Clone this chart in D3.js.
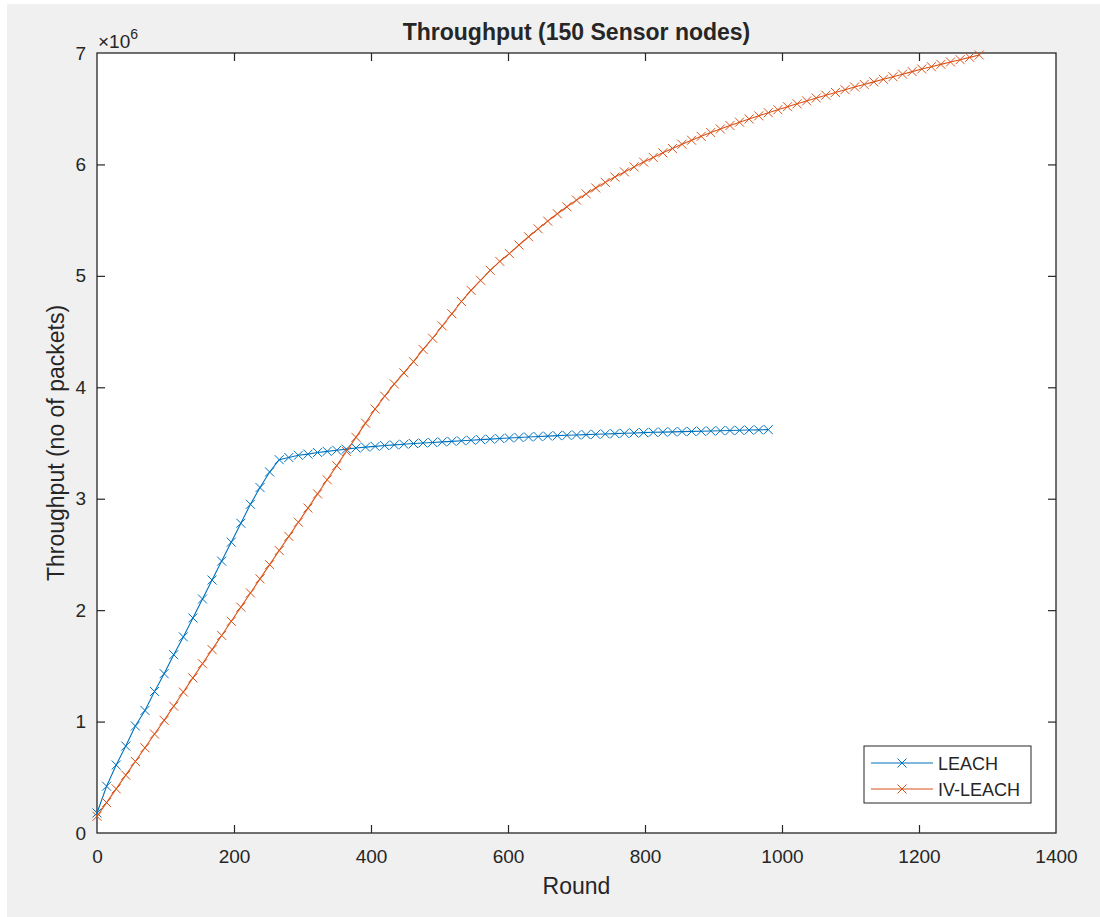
<!DOCTYPE html>
<html>
<head>
<meta charset="utf-8">
<title>Throughput (150 Sensor nodes)</title>
<script src="https://d3js.org/d3.v7.min.js"></script>
<style>
  body { margin: 0; background: white; }
  text { font-family: "Liberation Sans", Arial, sans-serif; fill: #262626; }
</style>
</head>
<body>
<svg id="chart" width="1100" height="917"></svg>
<script>
// rounds where a value was logged (LEACH stops at 980)
const rounds = [0,14,28,42,56,70,84,98,112,126,140,154,168,182,196,210,224,238,252,266,
  280,294,308,322,336,350,364,378,392,406,420,434,448,462,476,490,504,518,532,546,
  560,574,588,602,616,630,644,658,672,686,700,714,728,742,756,770,784,798,812,826,
  840,854,868,882,896,910,924,938,952,966,980,994,1008,1022,1036,1050,1064,1078,1092,1106,
  1120,1134,1148,1162,1176,1190,1204,1218,1232,1246,1260,1274,1288];

// throughput, x10^6 packets
const leach = [0.18,0.42,0.61,0.78,0.96,1.10,1.27,1.43,1.60,1.76,
  1.93,2.10,2.27,2.44,2.61,2.78,2.95,3.10,3.24,3.35,
  3.37,3.39,3.40,3.415,3.425,3.435,3.445,3.455,3.463,3.47,
  3.477,3.483,3.489,3.495,3.50,3.505,3.51,3.515,3.52,3.525,
  3.53,3.535,3.54,3.545,3.55,3.554,3.558,3.562,3.566,3.569,
  3.572,3.575,3.578,3.581,3.584,3.587,3.59,3.593,3.596,3.598,
  3.60,3.602,3.604,3.606,3.608,3.61,3.612,3.614,3.616,3.618,3.62];

const ivLeach = [0.15,0.273,0.396,0.519,0.642,0.765,0.888,1.011,1.138,1.265,
  1.392,1.519,1.646,1.773,1.90,2.027,2.154,2.281,2.408,2.535,
  2.662,2.789,2.916,3.043,3.17,3.297,3.424,3.551,3.678,3.805,
  3.92,4.03,4.13,4.23,4.34,4.44,4.55,4.66,4.77,4.87,
  4.96,5.05,5.13,5.20,5.277,5.351,5.422,5.491,5.557,5.62,
  5.68,5.736,5.789,5.839,5.887,5.933,5.978,6.021,6.063,6.104,
  6.143,6.181,6.217,6.252,6.286,6.318,6.349,6.379,6.408,6.436,
  6.464,6.491,6.518,6.544,6.57,6.596,6.621,6.646,6.671,6.695,
  6.718,6.741,6.764,6.787,6.81,6.833,6.856,6.877,6.898,6.919,
  6.94,6.961,6.982];

const xTicks = [0,200,400,600,800,1000,1200,1400];
const yTicks = [0,1,2,3,4,5,6,7];
const seriesNames = ["LEACH","IV-LEACH"];
const seriesColors = ["#0072BD","#D95319"];

const svg = d3.select("svg#chart");

// figure background (screenshot has a thin white edge)
svg.append("rect").attr("x",7).attr("y",4).attr("width",1093).attr("height",913).attr("fill","#f0f0f0");

const pLeft = 97, pRight = 1056, pTop = 53, pBottom = 833;
const x = d3.scaleLinear().domain([0,1400]).range([pLeft,pRight]);
const y = d3.scaleLinear().domain([0,7]).range([pBottom,pTop]);

svg.append("rect").attr("x",pLeft).attr("y",pTop).attr("width",pRight-pLeft).attr("height",pBottom-pTop).attr("fill","white");

const tickLen = 8;
const axisCol = "#262626";
const fmt = d3.format("d");

// bottom axis with labels, top axis ticks only
const xb = svg.append("g").attr("transform",`translate(0,${pBottom})`)
  .call(d3.axisBottom(x).tickValues(xTicks).tickFormat(fmt).tickSize(-tickLen).tickPadding(17).tickSizeOuter(0));
const xt = svg.append("g").attr("transform",`translate(0,${pTop})`)
  .call(d3.axisTop(x).tickValues(xTicks).tickSize(-tickLen).tickFormat("").tickSizeOuter(0));
const yl = svg.append("g").attr("transform",`translate(${pLeft},0)`)
  .call(d3.axisLeft(y).tickValues(yTicks).tickFormat(fmt).tickSize(-tickLen).tickPadding(11).tickSizeOuter(0));
const yr = svg.append("g").attr("transform",`translate(${pRight},0)`)
  .call(d3.axisRight(y).tickValues(yTicks).tickSize(-tickLen).tickFormat("").tickSizeOuter(0));

[xb,xt,yl,yr].forEach(g => {
  g.selectAll(".domain").remove();
  g.selectAll("line").attr("stroke",axisCol).attr("stroke-width",1.2);
  g.selectAll("text").attr("fill",axisCol).style("font-size","19px")
   .style("font-family",'"Liberation Sans", Arial, sans-serif');
});
// drop the edge ticks that sit on the box
xb.selectAll(".tick").filter(d => d==0 || d==1400).select("line").remove();
xt.selectAll(".tick").filter(d => d==0 || d==1400).select("line").remove();
yl.selectAll(".tick").filter(d => d==0 || d==7).select("line").remove();
yr.selectAll(".tick").filter(d => d==0 || d==7).select("line").remove();

svg.append("rect").attr("x",pLeft).attr("y",pTop).attr("width",pRight-pLeft).attr("height",pBottom-pTop)
  .attr("fill","none").attr("stroke",axisCol).attr("stroke-width",1.3);

// exponent label
const expo = svg.append("text").attr("x",98).attr("y",48).style("font-size","19px");
expo.append("tspan").text("\u00d710");
expo.append("tspan").attr("dy",-9).style("font-size","14px").text("6");

svg.append("text").attr("x",(pLeft+pRight)/2).attr("y",40).attr("text-anchor","middle")
  .style("font-size","23px").style("font-weight","bold").attr("fill","#000").text("Throughput (150 Sensor nodes)");
svg.append("text").attr("x",(pLeft+pRight)/2).attr("y",894).attr("text-anchor","middle")
  .style("font-size","23px").text("Round");
svg.append("text").attr("transform","translate(64,443) rotate(-90)").attr("text-anchor","middle")
  .style("font-size","23px").text("Throughput (no of packets)");

// series
const series = [leach, ivLeach].map((vals,i) => ({
  name: seriesNames[i], color: seriesColors[i],
  pts: vals.map((v,j) => ({r: rounds[j], v: v}))
}));

const line = d3.line().x(d => x(d.r)).y(d => y(d.v));
const xMark = (cx,cy,s) => `M${cx-s},${cy-s}L${cx+s},${cy+s}M${cx-s},${cy+s}L${cx+s},${cy-s}`;

series.forEach(s => {
  svg.append("path").datum(s.pts).attr("d",line).attr("fill","none")
    .attr("stroke",s.color).attr("stroke-width",1.1);
  svg.append("g").selectAll("path").data(s.pts).join("path")
    .attr("d", d => xMark(x(d.r), y(d.v), 4.5))
    .attr("stroke",s.color).attr("stroke-width",1).attr("fill","none");
});

// legend
const lg = svg.append("g");
lg.append("rect").attr("x",864).attr("y",746).attr("width",167).attr("height",57)
  .attr("fill","white").attr("stroke",axisCol).attr("stroke-width",1);
series.forEach((s,i) => {
  const ly = 763 + i*26;
  lg.append("line").attr("x1",871).attr("x2",933).attr("y1",ly).attr("y2",ly)
    .attr("stroke",s.color).attr("stroke-width",1.1);
  lg.append("path").attr("d",xMark(902,ly,4.5)).attr("stroke",s.color).attr("fill","none");
  lg.append("text").attr("x",938).attr("y",ly+6.5).style("font-size","18px").attr("fill","#000").text(s.name);
});
</script>
</body>
</html>
